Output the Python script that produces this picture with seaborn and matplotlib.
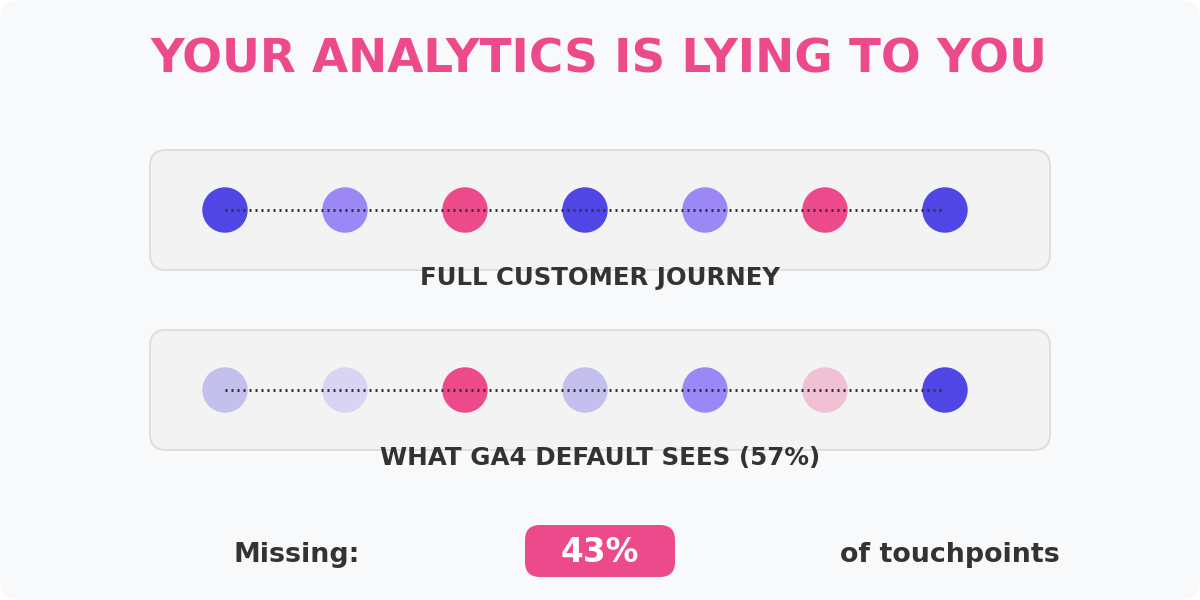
import matplotlib
matplotlib.use("Agg")
import matplotlib.pyplot as plt
from matplotlib.patches import FancyBboxPatch
import pandas as pd
import seaborn as sns

# touchpoints along the journey, same sequence in both rows
touchpoints = [0, 1, 2, 3, 4, 5, 6]
full_journey = ["indigo", "violet", "pink", "indigo", "violet", "pink", "indigo"]
ga4_journey = ["indigo faded", "violet faded", "pink", "indigo faded", "violet", "pink faded", "indigo"]

row_labels = ["FULL CUSTOMER JOURNEY", "WHAT GA4 DEFAULT SEES (57%)"]
title_text = "YOUR ANALYTICS IS LYING TO YOU"
missing_left = "Missing:"
missing_value = "43%"
missing_right = "of touchpoints"

palette = {
    "indigo": "#4f46e5",
    "violet": "#9b87f5",
    "pink": "#ec4a8b",
    "indigo faded": "#c3c0ee",
    "violet faded": "#d9d4f4",
    "pink faded": "#f0c0d4",
}
INK = "#333333"


def rounded_box(ax, x, y, w, h, radius, face, edge="none", lw=0):
    """Boite arrondie en coordonnees pixels."""
    box = FancyBboxPatch((x, y), w, h, boxstyle=f"round,pad=0,rounding_size={radius}",
                         facecolor=face, edgecolor=edge, linewidth=lw)
    ax.add_patch(box)


df = pd.concat([
    pd.DataFrame({"touchpoint": touchpoints, "row": 1, "state": full_journey}),
    pd.DataFrame({"touchpoint": touchpoints, "row": 0, "state": ga4_journey}),
])

sns.set_theme(style="white", rc={"font.family": ["DejaVu Sans"]})
fig = plt.figure(figsize=(12, 6), dpi=100, facecolor="white")

# background layer in pixels
bg = fig.add_axes([0, 0, 1, 1])
bg.set_xlim(0, 1200)
bg.set_ylim(600, 0)
bg.axis("off")
rounded_box(bg, 0, 0, 1200, 600, 20, "#f8f9fb")
rounded_box(bg, 150, 150, 900, 120, 16, "#f3f3f3", "#dedede", 1.44)
rounded_box(bg, 150, 330, 900, 120, 16, "#f3f3f3", "#dedede", 1.44)
rounded_box(bg, 525, 525, 150, 52, 15, "#ec4a8b")

bg.text(599, 72.5, title_text, ha="center", va="baseline", fontsize=33.7,
        fontweight="bold", color="#ec4a8b")
bg.text(600, 284.5, row_labels[0], ha="center", va="baseline", fontsize=17.6,
        fontweight="bold", color=INK)
bg.text(600, 464.5, row_labels[1], ha="center", va="baseline", fontsize=17.7,
        fontweight="bold", color=INK)
bg.text(296.5, 562, missing_left, ha="center", va="baseline", fontsize=19.4,
        fontweight="bold", color=INK)
bg.text(600, 562.5, missing_value, ha="center", va="baseline", fontsize=23.6,
        fontweight="bold", color="white")
bg.text(950, 562, missing_right, ha="center", va="baseline", fontsize=19.4,
        fontweight="bold", color=INK)

# marks layer: x 0-6 spans 225-945 px, rows sit at y 210 and 390 px
ax = fig.add_axes([225 / 1200, 210 / 600, 720 / 1200, 180 / 600])
ax.patch.set_alpha(0)
sns.scatterplot(data=df, x="touchpoint", y="row", hue="state", palette=palette,
                s=1070, linewidth=0, legend=False, clip_on=False, zorder=2, ax=ax)
for row in [0, 1]:
    sub = df[df["row"] == row]
    sns.lineplot(data=sub, x="touchpoint", y="row", color=INK, linewidth=2.16,
                 linestyle=(0, (0.667, 1.333)), clip_on=False, zorder=3, ax=ax, errorbar=None)
ax.set_xlim(0, 6)
ax.set_ylim(0, 1)
ax.axis("off")

fig.savefig("out.png", dpi=100, facecolor="white")
